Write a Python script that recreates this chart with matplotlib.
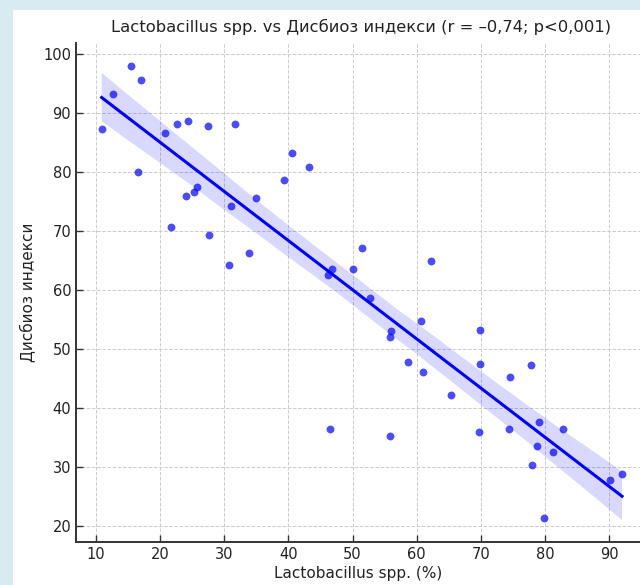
import matplotlib
matplotlib.use("Agg")
import matplotlib.pyplot as plt
import matplotlib.patches as patches
import numpy as np
import seaborn as sns

# Lactobacillus spp. (%) vs dysbiosis index
lacto = [10.9, 12.6, 15.4, 17.1, 16.5, 20.7, 22.6, 24.3, 21.7, 24.1,
         25.3, 25.7, 27.4, 27.7, 31.7, 31.1, 30.8, 33.9, 34.9, 39.3,
         40.5, 43.2, 51.4, 62.2, 46.8, 46.2, 50.0, 52.7, 60.6, 56.0,
         55.9, 69.9, 58.6, 61.0, 69.9, 74.6, 77.8, 65.4, 46.5, 55.8,
         69.7, 74.4, 79.0, 82.8, 78.7, 81.2, 78.0, 90.1, 92.0, 79.9]
dysbiosis = [87.4, 93.3, 98.0, 95.7, 80.0, 86.7, 88.1, 88.7, 70.7, 75.9,
             76.6, 77.5, 87.8, 69.4, 88.2, 74.3, 64.2, 66.3, 75.7, 78.6,
             83.2, 80.8, 67.1, 65.0, 63.5, 62.5, 63.5, 58.7, 54.7, 53.0,
             52.1, 53.2, 47.8, 46.1, 47.5, 45.3, 47.3, 42.3, 36.5, 35.3,
             36.0, 36.4, 37.6, 36.5, 33.6, 32.5, 30.4, 27.8, 28.9, 21.3]

x_ticks = [10, 20, 30, 40, 50, 60, 70, 80, 90]
y_ticks = [20, 30, 40, 50, 60, 70, 80, 90, 100]

fig = plt.figure(figsize=(6.4, 5.85), dpi=100, facecolor="#d8eaf2")
# white page area (the screenshot shows a bit of the page background on the left/top)
fig.patches.append(patches.Rectangle((13 / 640, 0), 1, 1 - 10 / 585,
                                     transform=fig.transFigure,
                                     facecolor="white", edgecolor="none", zorder=-10))

ax = fig.add_axes([76 / 640, 43 / 585, 1 - 76 / 640, 1 - 86 / 585])
ax.set_facecolor("white")

sns.regplot(x=np.array(lacto), y=np.array(dysbiosis), ax=ax, ci=95, seed=3,
            color="blue",
            scatter_kws=dict(s=32, alpha=0.7, linewidths=0),
            line_kws=dict(color="blue", lw=2.2))

ax.set_xlim(6.9, 94.8)
ax.set_ylim(17.3, 101.9)
ax.set_xticks(x_ticks)
ax.set_yticks(y_ticks)
ax.grid(True, linestyle="--", color="#cccccc", linewidth=0.7)
ax.set_axisbelow(True)
ax.tick_params(direction="in", length=5, width=1, colors="#333333",
               labelsize=10.5, labelcolor="#222222")
for side in ("top", "right"):
    ax.spines[side].set_visible(False)
for side in ("left", "bottom"):
    ax.spines[side].set_color("#333333")
    ax.spines[side].set_linewidth(1.4)

ax.set_title("Lactobacillus spp. vs Дисбиоз индекси (r = –0,74; p<0,001)",
             fontsize=11.8, color="#222222", pad=8, x=0.506)
ax.set_xlabel("Lactobacillus spp. (%)", fontsize=11, color="#222222", labelpad=3)
ax.set_ylabel("Дисбиоз индекси", fontsize=11, color="#222222", labelpad=6)

fig.savefig("out.png", dpi=100, facecolor=fig.get_facecolor())
